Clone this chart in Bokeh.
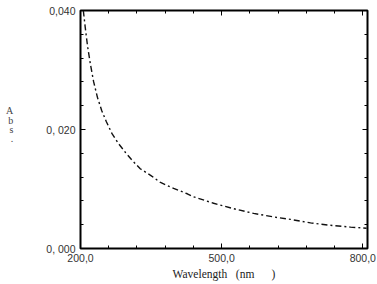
from bokeh.plotting import figure
from bokeh.models import Range1d, FixedTicker, LinearAxis
from bokeh.embed import file_html
from bokeh.resources import INLINE

NB = "\u00a0"
wavelength = [206, 210, 215, 221, 228, 236, 245, 255, 267, 281, 296, 310, 327, 349, 370, 398,
              427, 440, 483, 525, 568, 619, 646, 689, 731, 774, 808]
absorbance = [0.0400, 0.0372, 0.0340, 0.0310, 0.0280, 0.0254, 0.0232, 0.0213, 0.0193, 0.0176,
              0.0161, 0.0148, 0.0134, 0.0123, 0.0111, 0.0101, 0.0092, 0.0087, 0.0076, 0.0067,
              0.0059, 0.0052, 0.0049, 0.0043, 0.0039, 0.0036, 0.0034]
x_ticks = [200, 500, 800]
x_tick_labels = ["200,0", "500,0", "800,0"]
y_ticks = [0.0, 0.020, 0.040]
y_tick_labels = ["0," + NB + "000", "0," + NB + "020", "0,040"]
y_label = "A\nb\ns\n.\n" + NB
x_label = "Wavelength" + NB * 3 + "(nm" + NB * 6 + ")"

p = figure(width=377, height=284, output_backend="svg", toolbar_location=None,
           x_range=Range1d(200, 810), y_range=Range1d(0, 0.040),
           min_border_left=80, min_border_right=10, min_border_top=10, min_border_bottom=36)
p.background_fill_color = "white"
p.border_fill_color = "white"
p.outline_line_color = "black"
p.outline_line_width = 2
p.grid.visible = False

p.line(wavelength, absorbance, line_color="#111111", line_width=1.4, line_dash="6 3 2 3")

xa = p.xaxis[0]
xa.ticker = FixedTicker(ticks=x_ticks, minor_ticks=list(range(200, 801, 60)))
xa.major_label_overrides = {t: l for t, l in zip(x_ticks, x_tick_labels)}
xa.axis_label = x_label
xa.axis_label_text_font = "Liberation Serif"
xa.axis_label_text_font_style = "normal"
xa.axis_label_text_font_size = "11.5px"
xa.axis_label_text_color = "#222222"
xa.axis_label_standoff = 3

ya = p.yaxis[0]
ya.ticker = FixedTicker(ticks=y_ticks, minor_ticks=[i * 0.004 for i in range(11)])
ya.major_label_overrides = {t: l for t, l in zip(y_ticks, y_tick_labels)}
ya.axis_label = y_label
ya.axis_label_orientation = "horizontal"
ya.axis_label_text_font = "Liberation Serif"
ya.axis_label_text_font_style = "normal"
ya.axis_label_text_font_size = "10px"
ya.axis_label_text_line_height = 0.85
ya.axis_label_text_color = "#444444"
ya.axis_label_standoff = 30

for ax in (xa, ya):
    ax.axis_line_color = None
    ax.major_tick_in = 5
    ax.major_tick_out = 0
    ax.minor_tick_in = 3
    ax.minor_tick_out = 0
    ax.major_tick_line_color = "black"
    ax.minor_tick_line_color = "black"
    ax.major_label_text_font = "Liberation Sans"
    ax.major_label_text_font_size = "10.5px"
    ax.major_label_text_color = "#333333"
    ax.major_label_standoff = 5

for loc, tk, ticks in (("right", ya.ticker, y_ticks), ("above", xa.ticker, x_ticks)):
    ax = LinearAxis(ticker=tk, axis_line_color=None,
                    major_tick_in=5, major_tick_out=0, minor_tick_in=3, minor_tick_out=0,
                    major_label_standoff=0,
                    major_label_overrides={t: "" for t in ticks})
    p.add_layout(ax, loc)

open("out.html", "w").write(file_html(p, INLINE))
